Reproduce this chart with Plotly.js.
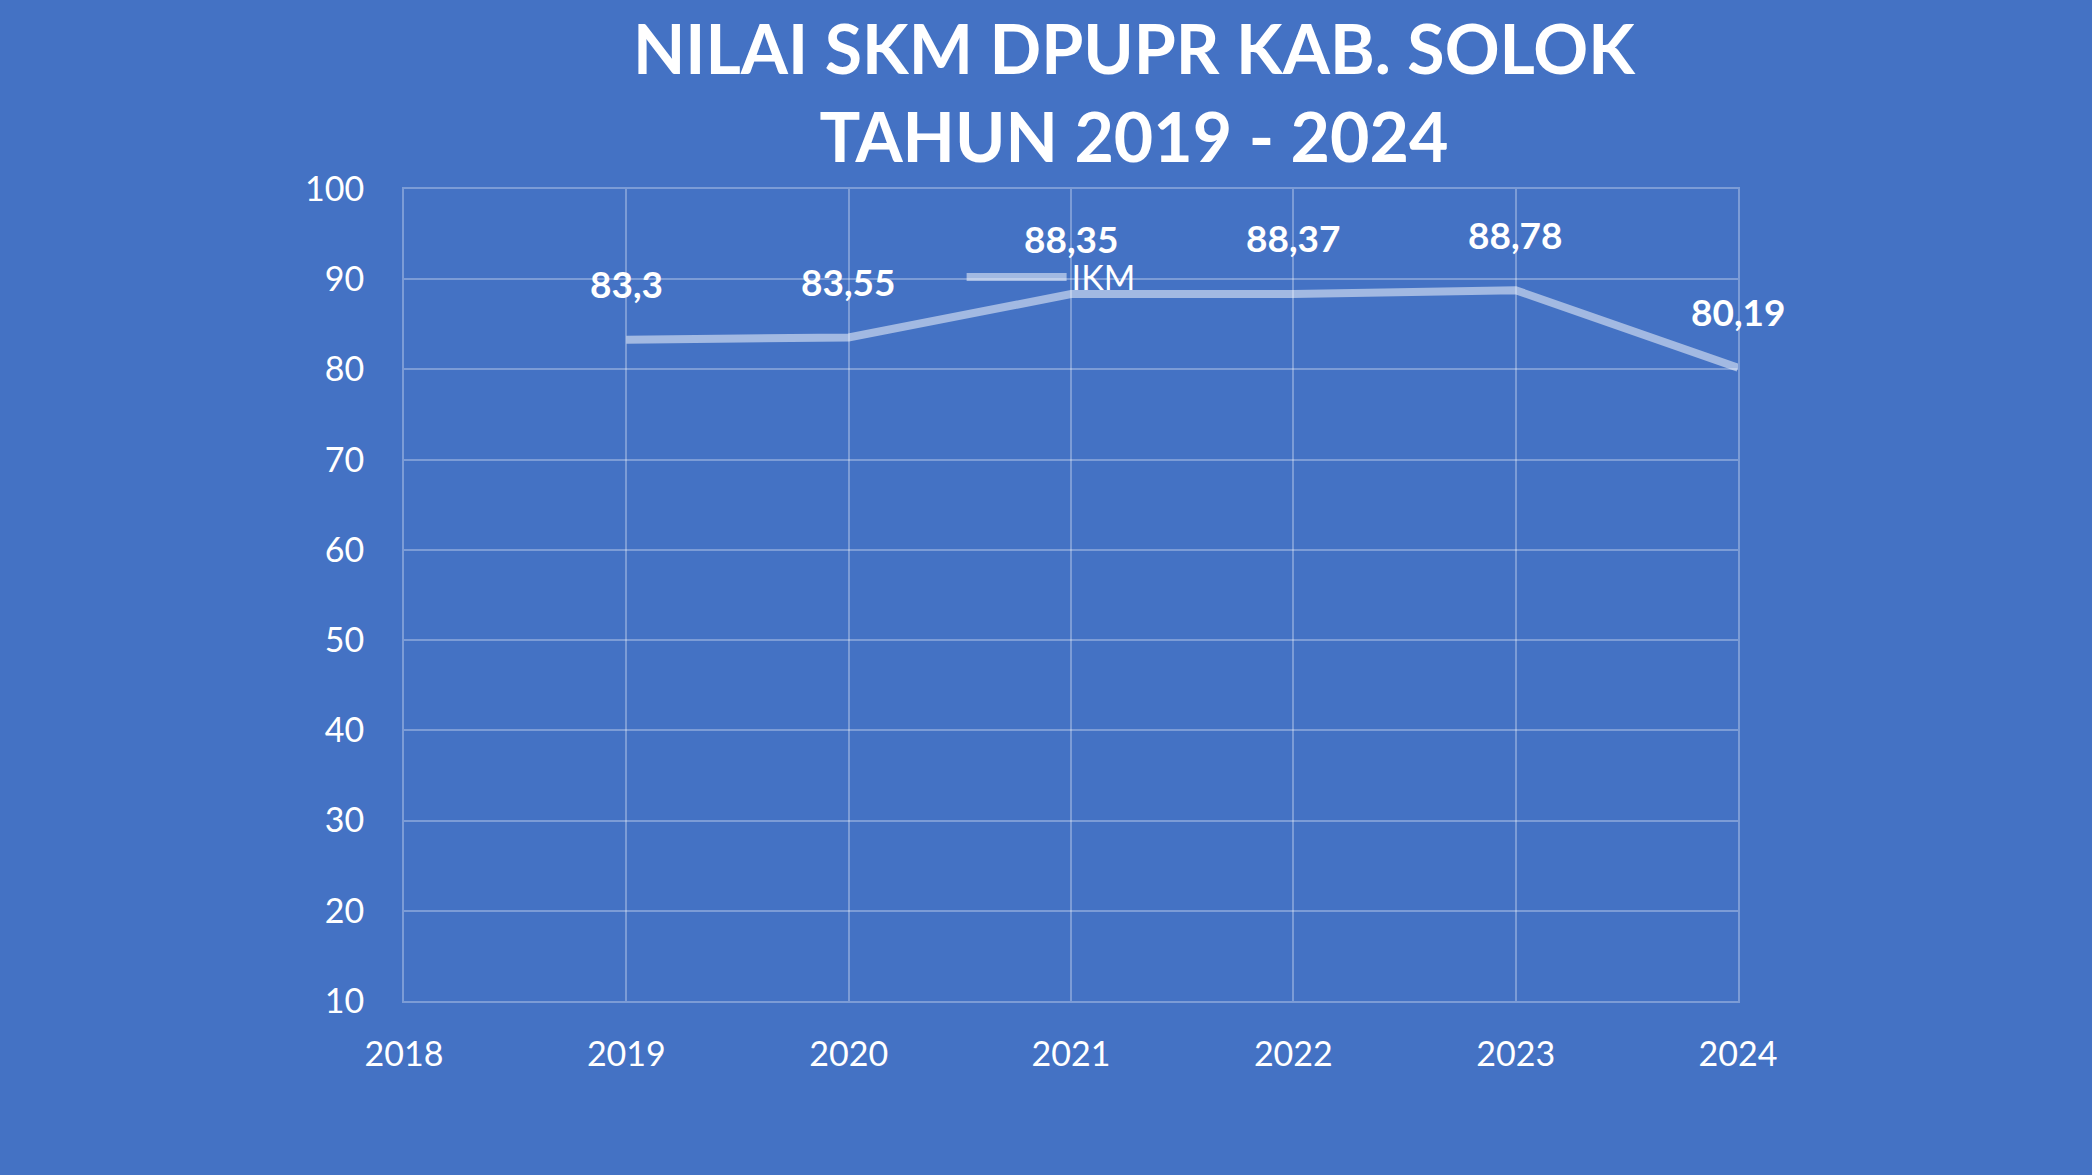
<!DOCTYPE html>
<html>
<head>
<meta charset="utf-8">
<script src="https://cdn.plot.ly/plotly-3.0.1.min.js"></script>
<style>html,body{margin:0;padding:0;background:#4472C4;}#chart{width:2092px;height:1175px;}</style>
</head>
<body>
<div id="chart"></div>
<script>
const years = [2019, 2020, 2021, 2022, 2023, 2024];
const ikm = [83.3, 83.55, 88.35, 88.37, 88.78, 80.19];
const ikmLabels = ['83,3', '83,55', '88,35', '88,37', '88,78', '80,19'];
const seriesName = 'IKM';
const titleText = 'NILAI SKM DPUPR KAB. SOLOK<br>TAHUN 2019 - 2024';

const FONT = 'Lato, "Open Sans", sans-serif';
const trace = {
  x: years, y: ikm, name: seriesName, type: 'scatter', mode: 'lines',
  line: {color: 'rgba(255,255,255,0.5)', width: 8},
  hoverinfo: 'skip'
};
const annotations = years.map((yr, i) => ({
  x: yr, y: ikm[i], xref: 'x', yref: 'y', text: '<b>' + ikmLabels[i] + '</b>',
  showarrow: false, yshift: 56, xanchor: 'center', yanchor: 'middle',
  font: {family: FONT, size: 37, color: '#ffffff'}
}));
const grid = 'rgba(255,255,255,0.3)';
const layout = {
  width: 2092, height: 1175,
  paper_bgcolor: '#4472C4', plot_bgcolor: '#4472C4',
  margin: {l: 404, r: 354, t: 189, b: 174, pad: 0},
  title: {text: '<b>' + titleText + '</b>', x: 0.542, xanchor: 'center', xref: 'container',
          y: 1 - 74/1175, yanchor: 'top', yref: 'container',
          font: {family: FONT, size: 68, color: '#ffffff'}},
  xaxis: {range: [2018, 2024], tick0: 2018, dtick: 1, showgrid: true, gridcolor: grid, gridwidth: 2,
          zeroline: false, showline: true, linecolor: grid, linewidth: 2, mirror: true,
          ticks: 'outside', ticklen: 22, tickcolor: 'rgba(0,0,0,0)',
          tickfont: {family: FONT, size: 34, color: '#ffffff'}, fixedrange: true},
  yaxis: {range: [10, 100], tick0: 10, dtick: 10, showgrid: true, gridcolor: grid, gridwidth: 2,
          zeroline: false, showline: true, linecolor: grid, linewidth: 2, mirror: true,
          ticks: 'outside', ticklen: 31, tickcolor: 'rgba(0,0,0,0)',
          tickfont: {family: FONT, size: 34, color: '#ffffff'}, fixedrange: true},
  showlegend: true,
  legend: {x: 0.418, xanchor: 'left', y: 0.891, yanchor: 'middle', bgcolor: 'rgba(0,0,0,0)',
           itemwidth: 100,
           font: {family: FONT, size: 34, color: '#ffffff'}, borderwidth: 0},
  annotations: annotations
};
Plotly.newPlot('chart', [trace], layout, {displayModeBar: false, staticPlot: true});
</script>
</body>
</html>
